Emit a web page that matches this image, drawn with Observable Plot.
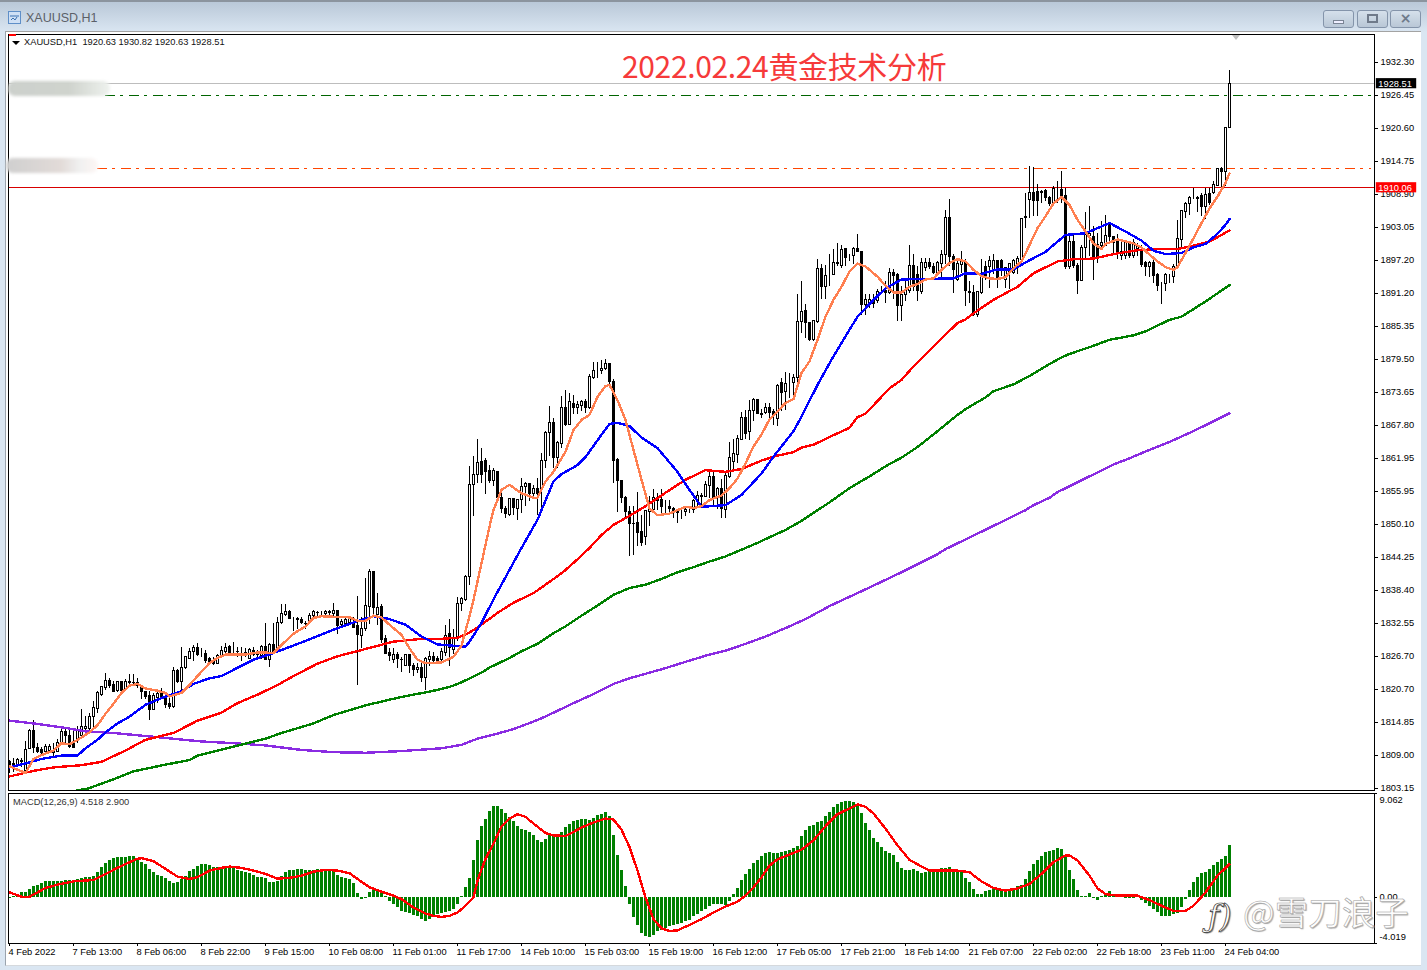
<!DOCTYPE html>
<html lang="zh"><head><meta charset="utf-8"><title>XAUUSD,H1</title>
<script src="https://cdn.jsdelivr.net/npm/d3@7"></script>
<script src="https://cdn.jsdelivr.net/npm/@observablehq/plot@0.6"></script>
<style>
html,body{margin:0;padding:0;background:#dae6f2}
#win{position:relative;width:1427px;height:970px;overflow:hidden;background:linear-gradient(#b7c6d6 0,#dae6f2 32px);font-family:"Liberation Sans",sans-serif}
#win>*{position:absolute}
#top{left:0;top:0;width:1427px;height:2px;background:#8b949e}
#pane{left:5px;top:31px;width:1415px;height:933px;background:#fff;border-top:1px solid #a3a3a3;border-left:1px solid #9aa3ad;border-bottom:1px solid #d5d9dd}
.cap{left:26px;top:11px;font-size:12.5px;color:#5b6068}
.btn{top:10px;height:16px;border:1px solid #8494aa;border-radius:3px;background:linear-gradient(#d5e0eb,#b9c7d6)}
.sm{font-size:9.3px;color:#111;line-height:11px;white-space:pre}
#main,#sub{left:0;width:1427px}
#main{top:0;height:794px}
#sub{top:790px;height:180px}
#main svg,#sub svg{position:absolute;left:0;top:0;max-width:none}
#title{left:622px;top:44px;font:30px "Noto Sans CJK SC",sans-serif;letter-spacing:-.35px;color:#f63a3a;line-height:42px;white-space:nowrap}
.blur{filter:blur(1.5px);border-radius:7px}
#wm{left:1243px;top:889px;font:33.5px "Noto Sans CJK SC",sans-serif;color:#fdfdfd;-webkit-text-stroke:.5px #9a9a9a;text-shadow:1px 1px 1px #aaa;white-space:nowrap;line-height:44px}
#logo{left:1208px;top:894px;font:italic 31px "DejaVu Serif",serif;color:#fff;-webkit-text-stroke:.7px #333;text-shadow:1px 1px 1px #777;line-height:44px;white-space:nowrap}
</style></head><body>
<div id="win">
<div id="top"></div>
<svg style="left:8px;top:11px" width="13" height="13"><rect x=".5" y=".5" width="12" height="12" fill="#cfe0f5" stroke="#5f8fc8"/><path d="M2 5h9M3 9l2-2 2 2 2-3" stroke="#3a70b0" fill="none"/></svg>
<div class="cap">XAUUSD,H1</div>
<div class="btn" style="left:1323px;width:29px"><div style="margin:9px auto 0;width:9px;height:2px;border:1px solid #7a8494;background:#eef"></div></div>
<div class="btn" style="left:1357px;width:29px"><div style="margin:3px auto 0;width:7px;height:5px;border:2px solid #6f7a8a"></div></div>
<div class="btn" style="left:1390px;width:29px;text-align:center;font:bold 14px/15px 'DejaVu Sans';color:#6f7a8a">×</div>
<div id="pane"></div>
<div id="main"></div>
<div id="sub"></div>
<div class="blur" style="left:8px;top:81px;width:102px;height:15px;background:linear-gradient(90deg,#ccd0cc,#cfd3cd 60%,#eef2ee)"></div>
<div class="blur" style="left:6px;top:158px;width:92px;height:15px;background:linear-gradient(90deg,#cfcfcf,#e2dbd8 60%,#f0f0f0 80%,#fdf6f4)"></div>
<div style="left:9px;top:34px;width:7px;height:2px;background:#f00"></div>
<div style="left:12px;top:41px;width:0;height:0;border:4px solid transparent;border-top:4px solid #000;border-bottom:0"></div>
<div style="left:1232px;top:35px;width:0;height:0;border:4px solid transparent;border-top:5px solid #c0c0c0;border-bottom:0"></div>
<div class="sm" style="left:24px;top:37px">XAUUSD,H1  1920.63 1930.82 1920.63 1928.51</div>
<div class="sm" style="left:13px;top:797px;color:#333">MACD(12,26,9) 4.518 2.900</div>
<div id="title">2022.02.24黄金技术分析</div>
<div id="logo">ƒ)</div>
<div id="wm">@雪刀浪子</div>
</div>
<script>
// Candles: [open, high, low, close]; one row per H1 bar
const bars04to08Feb=[
[1808.2,1808.5,1806.3,1807.5],[1807.9,1808.8,1806.4,1807.5],[1807.6,1808.8,1807.2,1808.6],[1808.5,1808.8,1807.3,1808.3],[1806.6,1811.9,1806.3,1810.4],
[1810.5,1814,1810.4,1813.7],[1813.7,1815.7,1809.8,1810.7],[1810.8,1811.6,1809.8,1810.1],[1810.4,1810.9,1809.5,1809.8],[1810.1,1811.4,1809.8,1810.9],
[1810.3,1811.3,1809.8,1810.9],[1810.1,1811.6,1808.9,1809.9],[1810.1,1812.2,1809.9,1811.6],[1811.7,1814.1,1811.3,1813.5],[1813.5,1814.3,1811.3,1812.8],
[1812.8,1814,1810.7,1810.9],[1811.7,1814,1810.6,1810.7],[1811.9,1814.6,1811.6,1814],[1812.8,1817.5,1812.5,1814.4],[1814.2,1816.3,1813.4,1814.5],
[1814.2,1816.9,1813.4,1816.3],[1816.3,1819,1814,1817.8],[1817.6,1820.8,1816.9,1820.5],[1820.2,1821.6,1819.9,1821.5],[1821.3,1823.9,1821,1822.7],
[1822.7,1823.1,1821.3,1821.8],[1822,1822.5,1820.5,1820.6],[1820.8,1822.5,1820.6,1822.4],[1822.4,1822.5,1820.8,1820.9],[1821.1,1822.8,1820.8,1822.5],
[1822.2,1823.7,1821.6,1822.4],[1822.3,1823.7,1821.6,1822.2],[1822.2,1823.1,1821.3,1821.8],[1821.6,1821.9,1819.3,1820.6],[1820.6,1820.8,1819.3,1819.8],
[1820,1820.8,1815.7,1817.5],[1817.5,1820.4,1817.4,1820],[1819.6,1820.8,1818.7,1820.3],[1820.5,1821.3,1819.3,1819.7],[1819.6,1820.2,1817.8,1818.4],
[1818.6,1819.9,1817.6,1818.1]];
const bars08to10Feb=[
[1818.1,1825.1,1817.7,1824.4],[1824.4,1824.6,1822.2,1822.5],[1822.4,1828.6,1820.5,1824.9],[1824.9,1827,1824.6,1826.8],[1826.5,1828.4,1826.4,1827.7],
[1827.7,1829,1826.1,1828.4],[1828.4,1829.2,1827,1827.3],[1827.3,1828.3,1826.7,1827.3],[1827.4,1828.1,1825.8,1826.1],[1826.5,1826.7,1825.5,1825.8],
[1826.1,1826.7,1825.3,1825.7],[1825.6,1827.3,1825.5,1827.1],[1827,1828.7,1826.7,1828],[1827.8,1829.3,1827.3,1828.4],[1828.6,1828.9,1827.3,1827.4],
[1827.8,1829.5,1827,1827.8],[1827.8,1828.6,1826.7,1827.7],[1827.7,1828.6,1826.1,1827.7],[1827.6,1828.4,1826.7,1827.5],[1826.6,1828.4,1826.4,1828.1],
[1828,1828.6,1827,1827.3],[1827.3,1828.1,1826.4,1827.2],[1827,1829,1826.4,1828.6],[1828.6,1832.9,1826.3,1826.4],[1826.4,1829.3,1825.1,1829],
[1829,1832.9,1827.3,1827.8],[1828.1,1833.8,1827.6,1832.9],[1832.9,1836.1,1832.6,1834.5],[1834.4,1836.1,1834.1,1834.9],[1834.9,1835.1,1833.5,1833.6],
[1833.7,1833.9,1831.4,1833.7],[1833.6,1833.8,1831.7,1833.5],[1833.5,1833.8,1832.6,1832.9],[1832.8,1833.2,1831.7,1832.7],[1833.2,1834.6,1832.9,1834.1],
[1834.1,1835.2,1833.6,1834.8],[1834.6,1834.9,1833.9,1834.7],[1834.5,1834.9,1833.8,1834.5],[1834.5,1835.2,1833.8,1834.9],[1834.8,1835.2,1834.1,1834.7],
[1834.5,1836.4,1834.1,1835.1],[1835.1,1835.2,1830.8,1832.3],[1832.5,1833.5,1832,1833],[1832.8,1833.8,1832.3,1833.5],[1832.9,1834.1,1832.6,1833.6],
[1832.9,1833.9,1832,1832.1],[1832.3,1837.6,1821.9,1830.7],[1830.6,1833.8,1828.4,1831.9],[1831.8,1840.8,1831.4,1835.9],[1835.8,1842.3,1832.6,1842]];
const bars10to11Feb=[
[1842,1842.1,1834.1,1835.5],[1834.4,1838.2,1832.4,1835.5],[1835.7,1836.1,1829.3,1829.9],[1830,1830.6,1827.3,1827.4],[1827.6,1828.4,1826.1,1827],
[1826.4,1828.3,1825.8,1827.3],[1827.3,1827.6,1824.9,1826.5],[1826.4,1826.7,1824.1,1826.3],[1825.3,1827.4,1825.2,1827.3],[1827.3,1827.4,1824,1825.3],
[1825.3,1825.8,1823.4,1824.5],[1824.5,1825.8,1824,1824.9],[1824.9,1825.8,1822.3,1823.1],[1823.1,1826.7,1821,1826.5],[1826.4,1827.8,1825.2,1826.8],
[1826.8,1827.6,1825.8,1826.2],[1826.5,1827,1825.8,1826.1],[1826.3,1828.4,1825.9,1827.7],[1827.6,1832.4,1827,1830.6],[1831,1833.6,1825.2,1828.4],
[1828.1,1831.7,1827.3,1830.1],[1830.1,1837.5,1829.6,1836.3],[1836.3,1837.5,1834.9,1837.1],[1837,1841.3,1836.7,1841],[1841,1860.6,1839.5,1857.4],
[1857.4,1862.5,1851.8,1859.1],[1859.1,1865.5,1857.7,1861.2],[1861.4,1863.9,1857.7,1859.1],[1861.6,1862.1,1855.6,1859.7],[1859.8,1860.9,1857.7,1858.1]];
const bars14to15Feb=[
[1858.1,1860.3,1857.1,1859.8],[1859.6,1859.7,1854.7,1855],[1855,1855.9,1852.3,1853.2],[1853.2,1853.5,1851.5,1852.2],[1852,1855,1851.8,1854.9],
[1854.9,1855,1851.9,1853.3],[1853.1,1854.8,1851,1854.7],[1854.7,1858.5,1852.3,1857],[1857,1857.8,1853.6,1857.5],[1857.5,1857.7,1854.4,1855.8],
[1855.8,1857.2,1855.3,1856.6],[1856.6,1858.5,1852,1855.8],[1856.5,1863,1852.9,1861.7],[1861.7,1866.8,1860.3,1866.5],[1866.5,1871.3,1862.4,1868.3],
[1868.3,1869.2,1860.3,1862.1],[1862.1,1865,1860.3,1864.8],[1864.6,1873,1863.9,1871.1],[1871.1,1874.2,1867.7,1868],[1868,1873.6,1867.9,1872.1],
[1871.8,1873.3,1869.8,1871.1],[1871.1,1872.1,1869.8,1871.5],[1871.3,1872.4,1870.4,1872],[1872.1,1872.6,1870.1,1871.1],[1871.1,1877,1870.8,1876.5],
[1876.4,1879,1876.1,1877.5],[1877.5,1879,1876.3,1877.5],[1877.5,1879.4,1876.9,1878],[1877.9,1879.6,1877.6,1878.8],[1878.8,1878.9,1875.1,1875.7],
[1875.7,1876,1857.7,1861.7],[1861.8,1862.1,1852.5,1858],[1858,1858.1,1854.1,1855.1],[1855.1,1855.3,1851.2,1852.5],[1852.6,1853.5,1844.7,1850.4],
[1850.5,1853.6,1844.8,1850.4],[1850.6,1856,1846.4,1848.9],[1849,1852,1846.4,1847.1],[1848.1,1852.9,1846.6,1852.7],[1852.6,1855.3,1850,1853.2]];
const bars15to17Feb=[
[1853,1856.6,1852.6,1855.1],[1855,1855.8,1852.9,1854.6],[1854.7,1856.6,1852,1853.4],[1853.6,1854.7,1852.3,1853.6],[1853.5,1854.7,1852.3,1853.1],
[1853.2,1853.4,1851.5,1852.5],[1852.5,1853,1850.6,1852.4],[1852.6,1853.2,1851.2,1852.6],[1852.5,1853.4,1851.8,1852.9],[1853,1853.2,1852.3,1853],
[1852.9,1854.8,1852.3,1854.6],[1854.4,1856.2,1853.5,1855.4],[1855.3,1855.8,1853.6,1855.5],[1855.3,1858,1855.2,1857.4],[1857.2,1859.9,1855,1858.8],
[1858.8,1859.7,1853.8,1855],[1855,1856.9,1853.1,1856.6],[1856.6,1858.3,1851.5,1853.2],[1853,1859.4,1851.5,1859],[1858.8,1864.9,1858.5,1862.1],
[1861.5,1865.5,1859.5,1862.8],[1862.7,1866.2,1861.2,1865.5],[1865.3,1870.2,1865.2,1869.2],[1869.2,1870.5,1865.5,1866.4],[1866.7,1872.4,1865.3,1870.5],
[1870.5,1872.7,1868.6,1872.4],[1872.4,1872.6,1869.8,1869.9],[1869.9,1870.7,1869.2,1869.8],[1870.1,1871.8,1869.8,1871.1],[1871.1,1871.8,1868.6,1870.2],
[1870.3,1870.8,1868,1869.6],[1869,1875.1,1867.7,1875],[1875.4,1876.3,1870.4,1873.7],[1873.8,1877.3,1870.5,1875.2],[1875.4,1877.2,1872.7,1875.4],
[1875.4,1877,1873.3,1876.3],[1876.3,1891.1,1875.4,1886.3],[1886.2,1893.4,1884.3,1888.1],[1888.2,1889.4,1883.4,1886],[1886,1886.2,1882.8,1883.1]];
const bars17to21Feb=[
[1883.1,1886.6,1882.8,1886.5],[1886.3,1897.4,1886,1895.7],[1895.7,1896.4,1890.2,1892.5],[1892.4,1896.2,1890.2,1894.4],[1894.6,1898.2,1892.5,1894.6],
[1894.6,1899.2,1894.6,1896.8],[1896.8,1900.2,1896.1,1896.6],[1896.2,1899.9,1895.8,1899],[1899.2,1899.3,1896.1,1897.6],[1897.7,1898.2,1897,1897.7],
[1898,1899.5,1896.4,1899.2],[1899.2,1901.7,1898.5,1898.6],[1898.7,1898.7,1887.5,1889.3],[1889.3,1891.2,1887.5,1890.2],[1889.4,1891.1,1888.7,1890.2],
[1890,1891.1,1888.7,1889.5],[1889.9,1892,1889.6,1891.5],[1891.6,1892.5,1891.1,1891.6],[1891.8,1893.4,1889.6,1891.4],[1891.4,1895.8,1891.1,1894.9],
[1894.9,1895.5,1890.2,1894.4],[1894.6,1894.9,1886.3,1889.1],[1889.1,1892.5,1886.3,1891.1],[1891.1,1893.8,1889.9,1891.7],[1891.7,1899.8,1891.4,1896.2],
[1896.2,1898.3,1891.7,1892.5],[1894.6,1896.1,1889.9,1891.7],[1891.5,1897.6,1891.1,1896.7],[1895.8,1897.6,1895.2,1896.8],[1896.7,1897.6,1895.5,1896],
[1896.1,1896.7,1894.6,1895],[1895,1897,1894.3,1896.8],[1896.6,1899,1893.7,1898.2],[1898.2,1906.1,1896.4,1904.7],[1904.7,1908,1896.1,1897.7],
[1897.7,1898.2,1891.4,1895.5],[1893.7,1897.6,1893.4,1896.6],[1896.4,1898.7,1894.9,1897],[1896.7,1897.3,1889,1891.7],[1891.5,1893.4,1889.6,1891.4]];
const bars21to24Feb=[
[1891.4,1892.7,1887.3,1887.5],[1887.5,1891.7,1887.1,1891.5],[1891.4,1897.4,1891.1,1894.2],[1896,1897,1893.7,1894.2],[1896.1,1897.9,1892.2,1897.1],
[1895.5,1898.2,1894.6,1897.1],[1897,1897.1,1892.2,1893.7],[1897.1,1897.3,1894.3,1895.8],[1893.7,1896,1892.2,1895.8],[1895.2,1896.7,1892,1896.6],
[1894.9,1897.3,1894.6,1897.1],[1896.2,1897.9,1894.6,1897.5],[1897.3,1904.7,1897,1904.6],[1904.7,1909.1,1902.9,1904.8],[1907.9,1913.8,1904.7,1909.1],
[1909.1,1913.7,1905,1907.7],[1909.3,1910.7,1905,1907.7],[1909.3,1909.6,1907.3,1909.2],[1909.4,1909.7,1907.6,1908.2],[1908.2,1908.5,1906.7,1907.2],
[1907.3,1910.2,1906.7,1909.9],[1909.8,1911.2,1907.3,1909.8],[1909.7,1912.9,1907.3,1908.5],[1908.6,1910,1895.5,1896.1],[1896.1,1901.7,1895.5,1900.4],
[1900.5,1901.9,1895.8,1896.2],[1896.2,1896.7,1891.1,1893.6],[1893.6,1899.8,1893.4,1899.3],[1899.3,1905.7,1897.6,1901.7],[1901.5,1906.7,1897.9,1901.8],
[1901.3,1903.2,1893.6,1897.7],[1899.9,1902,1896.7,1897.6],[1899.8,1904.1,1899,1900.2],[1899.8,1905.2,1899.6,1901.5],[1903.8,1903.9,1900.3,1901.3],
[1901.4,1901.5,1898.2,1900.2],[1900.5,1901.7,1897.3,1898.3],[1897.9,1900.5,1897.2,1898.7],[1897.9,1900.5,1897.4,1900.2],[1900.2,1900.5,1897.6,1897.9],
[1897.9,1900.8,1897.6,1900.2],[1899.2,1900.2,1897.9,1899.5],[1899,1899.9,1896,1896.4],[1896.7,1897,1894.3,1896],[1896,1897,1894.2,1896.7],
[1896.8,1897.3,1893,1894.4],[1894.6,1894.9,1891.7,1892.7],[1893,1893.3,1889.3,1893],[1893,1894.8,1891.7,1894.6],[1894.6,1894.7,1893.1,1894.6],
[1894.3,1896.4,1893.1,1896.1],[1896,1904.2,1895.8,1900.9],[1900.8,1906.1,1899.3,1906],[1905.8,1907.4,1904.7,1907.2],[1907.2,1908.6,1905.2,1908.2],
[1908.2,1910,1907.9,1908.2],[1908,1908.6,1905.7,1908.3],[1908.6,1909.1,1905,1906.7],[1906.6,1910,1904.5,1908.8],[1908.9,1910,1907,1907.3],
[1909.1,1911.2,1908.8,1910.6],[1910.3,1913.5,1910.2,1913.3],[1913.3,1913.7,1909.8,1912.9],[1912.9,1920.7,1910.3,1920.6],[1920.63,1930.82,1920.63,1928.51]];

// Moving averages: [bar, price]
const maFast=[[0,1807.5],[4,1806.3],[6,1808.8],[8,1809.5],[11,1810.3],[13,1811.6],[15,1811.4],[17,1812.2],[20,1813.5],[22,1814.8],[24,1816.8],[26,1818.6],[28,1820.5],[30,1821.8],[32,1822.1],[34,1821.3],[37,1820.9],[39,1820.5],[40,1819.9],[43,1820.5],[45,1821.9],[47,1823.5],[50,1825.8],[52,1826.7],[54,1827.3],[59,1827.3],[62,1827.7],[66,1827.6],[68,1829],[71,1831],[74,1832.3],[76,1833.8],[78,1834.1],[85,1833.9],[87,1833.3],[89,1833.3],[91,1834.2],[93,1833.9],[95,1832.6],[98,1830.8],[100,1828.4],[102,1826.4],[104,1825.8],[108,1825.9],[111,1826.9],[113,1828.9],[115,1834.1],[116,1837],[118,1843.5],[120,1850],[121,1852.9],[123,1856.5],[125,1857.4],[128,1855.9],[131,1855.1],[132,1855.1],[134,1858],[136,1859.7],[139,1863.3],[141,1867.1],[143,1868.9],[145,1869.8],[147,1873],[149,1874.9],[150,1875.1],[152,1872.4],[154,1868.9],[156,1863.6],[158,1858.3],[160,1853.2],[162,1852],[165,1852.3],[167,1852.9],[169,1853.5],[171,1853.3],[173,1853.6],[175,1854.7],[178,1855.5],[180,1856.8],[182,1858.5],[184,1861.2],[186,1864.2],[188,1866.3],[190,1869],[192,1870.4],[194,1871.9],[196,1872.6],[198,1877.2],[200,1879.3],[202,1883.1],[204,1887.2],[206,1890.2],[208,1892.5],[210,1895.2],[212,1896.6],[214,1896.1],[217,1894.3],[219,1892.7],[221,1891.5],[223,1891.5],[225,1892.5],[227,1893],[229,1893.8],[231,1894],[233,1895.5],[235,1896.7],[237,1897.4],[239,1897],[241,1895.5],[243,1894.4],[245,1894],[247,1893.9],[249,1894.2],[251,1895.8],[253,1897],[255,1899.9],[257,1902.9],[259,1905],[261,1907.3],[263,1908.4],[265,1907],[267,1904.4],[269,1902.3],[271,1900.2],[273,1899.2],[274,1900.1],[277,1900.9],[281,1900.2],[283,1899.5],[285,1898.2],[287,1897],[289,1896],[291,1895.5],[292,1896],[294,1898.5],[296,1901.1],[298,1903.8],[300,1906.4],[302,1908.5],[304,1910.9],[305,1912.6]];
const maBlue=[[0,1807.3],[4,1808],[8,1808.8],[13,1809.4],[17,1809.4],[19,1810.7],[22,1812.2],[24,1813.5],[27,1815.1],[30,1816.3],[34,1818.4],[38,1819.6],[43,1820.8],[46,1822.1],[50,1823.1],[53,1823.5],[56,1824.6],[61,1826.4],[66,1827.6],[71,1828.9],[76,1830.3],[81,1831.7],[86,1833],[91,1834.1],[95,1833.6],[99,1832.6],[103,1830.5],[107,1829.1],[114,1828.7],[115,1829.6],[118,1832.9],[121,1837.1],[125,1842.3],[128,1846.2],[132,1851.2],[136,1858],[138,1859.3],[142,1860.9],[144,1862.3],[147,1865.3],[150,1868.2],[152,1868.4],[155,1867.8],[158,1865.8],[162,1863.9],[167,1859.7],[170,1856.5],[173,1853.5],[179,1853.8],[183,1855.6],[188,1859.4],[191,1862.4],[196,1866.9],[198,1869.5],[202,1875.1],[206,1880.2],[210,1884.9],[212,1887.2],[216,1890.2],[219,1892.2],[223,1893.8],[236,1894],[239,1894.9],[243,1894.8],[247,1895.6],[251,1895.6],[255,1897.2],[259,1898.7],[264,1901.7],[269,1902],[273,1903.2],[275,1903.8],[279,1902.3],[283,1900.7],[286,1898.9],[289,1898.3],[293,1898.5],[296,1899.5],[299,1900.1],[302,1901.9],[304,1903.5],[305,1904.5]];
const maRed=[[0,1805.7],[6,1806.7],[11,1807.3],[18,1807.7],[23,1808.3],[29,1810.3],[34,1812.2],[41,1813.4],[47,1815.6],[53,1817],[57,1818.7],[62,1820.2],[67,1821.9],[71,1823.5],[77,1825.7],[82,1827],[89,1828.3],[96,1829.6],[103,1830.1],[108,1830.1],[112,1830.3],[115,1831.2],[118,1832.6],[122,1834.7],[126,1836.5],[131,1838.2],[134,1839.7],[137,1841.2],[139,1842.3],[142,1844.2],[145,1846.2],[148,1848.5],[151,1850.3],[154,1851.5],[159,1853.6],[164,1856],[169,1858.3],[174,1860],[179,1859.7],[183,1860.2],[188,1861.7],[191,1862.4],[196,1863.2],[198,1864],[201,1864.5],[206,1866.2],[210,1867.5],[212,1869.4],[214,1870],[220,1874.5],[223,1876],[226,1878.4],[230,1881.2],[234,1884],[237,1886.1],[239,1886.7],[241,1887.8],[246,1890.2],[252,1892.5],[256,1894.9],[262,1897],[266,1897.4],[271,1897.5],[276,1898.3],[282,1899],[288,1899.2],[292,1899.2],[296,1899.8],[300,1900.5],[305,1902.5]];
const maGreen=[[17,1803.3],[19,1803.4],[26,1805.2],[31,1806.6],[39,1807.8],[45,1808.6],[47,1809.4],[56,1811],[64,1812.4],[68,1813.4],[76,1815.1],[81,1816.6],[89,1818.3],[98,1819.8],[104,1820.6],[108,1821.2],[111,1821.8],[113,1822.4],[118,1824.1],[120,1825],[125,1826.7],[128,1827.9],[132,1829.2],[136,1831.1],[139,1832.3],[143,1834.2],[147,1836],[151,1837.9],[155,1839.1],[159,1839.7],[163,1840.7],[167,1841.9],[171,1842.8],[175,1843.8],[179,1844.7],[183,1845.9],[187,1847.1],[190,1848.1],[194,1849.4],[198,1851],[205,1854.3],[210,1856.8],[215,1858.9],[220,1861.1],[223,1862.2],[227,1864.1],[232,1866.9],[237,1869.8],[239,1870.8],[244,1872.9],[246,1874],[251,1875.2],[255,1876.7],[259,1878.4],[263,1880],[265,1880.6],[270,1881.8],[275,1883.1],[281,1883.9],[284,1884.6],[290,1886.65],[293,1887.2],[299,1889.9],[305,1892.8]];
const maPurple=[[0,1815.6],[6,1815.1],[14,1814.3],[19,1813.7],[26,1813.4],[35,1812.8],[48,1811.9],[56,1811.6],[64,1811.2],[73,1810.4],[81,1810],[89,1809.9],[98,1810.2],[108,1810.7],[113,1811.3],[117,1812.4],[121,1813.1],[126,1814.1],[132,1815.7],[136,1817],[141,1818.7],[146,1820.3],[151,1822.1],[155,1823.1],[159,1823.9],[164,1824.9],[168,1825.8],[174,1827.1],[179,1828],[184,1829.2],[189,1830.5],[194,1832],[199,1833.6],[205,1835.9],[215,1839.2],[223,1841.9],[232,1845.1],[234,1846],[241,1848.4],[254,1852.9],[256,1853.8],[260,1855.1],[262,1856.1],[270,1858.9],[276,1861],[280,1862.1],[284,1863.3],[290,1865],[295,1866.6],[300,1868.3],[305,1870.1]];

// MACD histogram, one value per bar
const macdHist=[-.06,.06,.15,.41,.41,.67,.94,1.08,1.17,1.38,1.38,1.38,1.38,1.38,1.46,1.46,1.46,1.52,1.61,1.7,1.76,1.81,2.17,2.58,2.93,3.22,3.37,3.48,3.48,3.48,3.57,3.57,3.31,3.07,2.87,2.43,2.14,1.9,1.81,1.61,1.4,1.23,1.32,1.52,1.81,2.28,2.43,2.69,2.87,2.87,2.78,2.63,2.58,2.63,2.63,2.63,2.49,2.34,2.25,2.2,2.05,1.9,1.76,1.7,1.61,1.32,1.32,1.4,1.81,2.2,2.34,2.34,2.43,2.43,2.34,2.34,2.34,2.4,2.46,2.4,2.34,2.25,1.9,1.7,1.61,1.52,1.23,.35,-.15,-.06,.44,.59,.53,.44,.06,-.35,-.64,-.88,-1.23,-1.32,-1.4,-1.61,-1.7,-1.96,-2.11,-1.9,-1.7,-1.52,-1.4,-1.32,-1.23,-1.02,-.59,.06,.88,1.61,3.22,4.92,6.15,6.79,7.52,7.96,7.9,7.7,7.32,6.97,6.59,6.21,5.91,5.8,5.62,5.41,4.98,4.77,5.06,5.5,5.5,5.5,5.62,6.06,6.35,6.59,6.73,6.82,6.82,6.73,6.88,7.11,7.23,7.38,7.08,5.41,3.66,2.34,.94,-.64,-1.76,-2.49,-3.13,-3.45,-3.51,-3.28,-2.99,-2.87,-2.69,-2.55,-2.49,-2.4,-2.28,-2.11,-1.99,-1.7,-1.46,-1.23,-1.08,-.82,-.64,-.59,-.59,-.73,-.38,.23,.79,1.46,1.99,2.46,2.93,3.22,3.57,3.86,3.92,3.86,3.81,3.95,4.01,4.1,4.24,4.45,5.27,5.85,6.15,6.23,6.5,6.64,7.08,7.43,7.84,8.14,8.28,8.4,8.4,8.28,8.14,7.32,6.44,5.8,5.12,4.83,4.39,4.04,3.86,3.66,3.07,2.49,2.34,2.34,2.4,2.28,2.11,2.2,2.34,2.4,2.34,2.49,2.49,2.58,2.2,2.2,2.2,1.61,1.26,.73,.29,.23,.5,.64,.88,.73,.64,.59,.59,.73,.94,1.02,1.52,2.28,2.87,3.22,3.57,3.92,4.01,4.1,4.24,4.16,3.66,2.34,1.52,.64,.12,.12,.35,-.09,-.23,.12,.35,.5,.29,.18,.12,-.06,-.06,-.06,.06,-.23,-.53,-.79,-1.02,-1.32,-1.67,-1.67,-1.67,-1.52,-1.4,-.88,-.15,.59,1.32,1.76,2.05,2.14,2.43,2.78,3.07,3.31,3.57,4.518];
// MACD signal: [bar, value]
const macdSignal=[[0,.44],[3,.06],[5,.06],[9,.82],[12,1.11],[16,1.4],[21,1.52],[24,2.05],[27,2.58],[30,3.07],[32,3.37],[33,3.42],[36,3.16],[39,2.49],[42,1.81],[45,1.61],[47,1.76],[50,2.34],[53,2.58],[55,2.69],[58,2.58],[61,2.34],[64,2.05],[67,1.64],[70,1.7],[73,1.9],[76,2.25],[79,2.4],[82,2.34],[85,2.11],[87,1.61],[90,.88],[93,.5],[96,.15],[98,-.15],[101,-.88],[104,-1.4],[106,-1.61],[108,-1.7],[110,-1.61],[112,-1.32],[114,-.73],[116,0],[117,1.46],[119,3.37],[121,4.68],[123,6.21],[125,6.88],[127,7.26],[129,7.02],[131,6.44],[134,5.62],[136,5.41],[139,5.36],[141,5.71],[143,6.09],[146,6.53],[149,6.88],[151,6.79],[153,5.91],[155,4.39],[157,2.34],[159,0],[161,-1.9],[163,-2.69],[165,-2.93],[167,-2.87],[170,-2.4],[173,-1.9],[176,-1.32],[179,-.79],[182,-.38],[184,.15],[186,.88],[188,1.76],[190,2.78],[192,3.31],[195,3.75],[198,4.16],[201,4.98],[204,6.21],[207,7.26],[210,7.76],[212,8.11],[214,7.9],[216,7.32],[219,6],[222,4.54],[225,3.28],[228,2.69],[230,2.34],[235,2.34],[237,2.34],[240,2.2],[243,1.4],[246,.82],[249,.59],[252,.79],[255,1.17],[258,2.05],[261,3.07],[264,3.66],[265,3.66],[267,3.22],[270,1.9],[272,.79],[274,.29],[277,.15],[282,.15],[285,-.23],[288,-.73],[291,-1.17],[294,-1.17],[296,-.73],[299,.44],[302,1.9],[305,2.9]];

// Axes and levels
const priceLabels=["1932.30","1926.45","1920.60","1914.75","1908.90","1903.05","1897.20","1891.20","1885.35","1879.50","1873.65","1867.80","1861.95","1855.95","1850.10","1844.25","1838.40","1832.55","1826.70","1820.70","1814.85","1809.00","1803.15"];
const timeLabels=["4 Feb 2022","7 Feb 13:00","8 Feb 06:00","8 Feb 22:00","9 Feb 15:00","10 Feb 08:00","11 Feb 01:00","11 Feb 17:00","14 Feb 10:00","15 Feb 03:00","15 Feb 19:00","16 Feb 12:00","17 Feb 05:00","17 Feb 21:00","18 Feb 14:00","21 Feb 07:00","22 Feb 02:00","22 Feb 18:00","23 Feb 11:00","24 Feb 04:00"];
const barsPerTimeLabel=16;
const bidPrice=1928.51, markedPrice=1910.06, levelGreen=1926.45, levelOrange=1913.5;

const candles=[...bars04to08Feb,...bars08to10Feb,...bars10to11Feb,...bars14to15Feb,...bars15to17Feb,...bars17to21Feb,...bars21to24Feb]
  .map(([o,h,l,c],i)=>({i,o,h,l,c}));
const priceTicks=priceLabels.map((_,k)=>1932.3-5.85*k);
const priceTickText=new Map(priceTicks.map((t,k)=>[t,priceLabels[k]]));
const timeTicks=timeLabels.map((_,k)=>k*barsPerTimeLabel);
const timeTickText=new Map(timeTicks.map((t,k)=>[t,timeLabels[k]]));
const xScale={type:"linear",domain:[-.25,341.25],range:[8,1374]};
const font={fontFamily:"Liberation Sans",fontSize:"9.3px",background:"transparent",overflow:"visible"};
const crisp={shapeRendering:"crispEdges"};
const maLine=(data,stroke)=>Plot.line(data,{x:d=>d[0],y:d=>d[1],stroke,strokeWidth:2.4,...crisp});

const main=Plot.plot({
  width:1427,height:794,marginLeft:8,marginRight:53,marginTop:34,marginBottom:4,
  style:font,
  x:{...xScale,axis:null},
  y:{type:"linear",domain:[1803.21,1937.23],label:null,axis:null},
  marks:[
    Plot.ruleY([bidPrice],{stroke:"#bdbdbd",...crisp}),
    Plot.ruleY([levelGreen],{x1:24,x2:340.5,stroke:"#006400",strokeDasharray:"10,5,3,6",...crisp}),
    Plot.ruleY([levelOrange],{x1:22,x2:340.5,stroke:"#ff4500",strokeDasharray:"10,5,3,6",...crisp}),
    Plot.ruleY([markedPrice],{stroke:"#d80000",...crisp}),
    Plot.ruleX(candles,{x:"i",y1:"l",y2:"h",stroke:"#000",...crisp}),
    Plot.rect(candles,{x1:d=>d.i-.25,x2:d=>d.i+.25,y1:"o",y2:"c",fill:d=>d.c<d.o?"#000":"#fff",stroke:"#000",...crisp}),
    maLine(maPurple,"#8a2be2"),
    maLine(maGreen,"#008000"),
    maLine(maRed,"#ff0000"),
    maLine(maBlue,"#0000ff"),
    maLine(maFast,"#ff7f50"),
    Plot.axisY({anchor:"right",ticks:priceTicks,tickFormat:d=>priceTickText.get(d),tickSize:3,tickPadding:3,label:null,fill:"#000",fontVariant:"normal",...crisp}),
    Plot.frame({stroke:"#000"}),
    Plot.rect([bidPrice],{x1:341.7,x2:351.8,y1:d=>d-.9,y2:d=>d+.9,fill:"#000"}),
    Plot.text([bidPrice],{x:342.2,y:d=>d,text:d=>d.toFixed(2),textAnchor:"start",fill:"#fff",fontSize:9.3}),
    Plot.rect([markedPrice],{x1:341.7,x2:351.8,y1:d=>d-.9,y2:d=>d+.9,fill:"#f00"}),
    Plot.text([markedPrice],{x:342.2,y:d=>d,text:d=>d.toFixed(2),textAnchor:"start",fill:"#fff",fontSize:9.3})
  ]});
document.getElementById("main").append(main);

const sub=Plot.plot({
  width:1427,height:180,marginLeft:8,marginRight:53,marginTop:3,marginBottom:27,
  style:font,
  x:{...xScale,axis:null},
  y:{type:"linear",domain:[-4.019,9.062],label:null,axis:null},
  marks:[
    Plot.ruleX(macdHist,{x:(d,i)=>i,y1:0,y2:d=>d,stroke:"#008000",strokeWidth:3,...crisp}),
    Plot.line(macdSignal,{x:d=>d[0],y:d=>d[1],stroke:"#ff0000",strokeWidth:2.4,...crisp}),
    Plot.axisX({anchor:"bottom",ticks:timeTicks,tickFormat:()=>"",tickSize:3,label:null,...crisp}),
    Plot.axisX({anchor:"bottom",ticks:timeTicks,tickFormat:d=>timeTickText.get(d),tickSize:0,tickPadding:5,dx:-1,textAnchor:"start",label:null,fill:"#000",fontVariant:"normal"}),
    Plot.ruleY([9.062,0,-4.019],{x1:341.25,x2:342,stroke:"#000",...crisp}),
    Plot.text([9.062],{frameAnchor:"right",y:d=>d,dx:5,dy:7,text:()=>"9.062",textAnchor:"start",fill:"#000"}),
    Plot.text([0],{frameAnchor:"right",y:d=>d,dx:5,text:()=>"0.00",textAnchor:"start",fill:"#000"}),
    Plot.text([-4.019],{frameAnchor:"right",y:d=>d,dx:5,dy:-6,text:()=>"-4.019",textAnchor:"start",fill:"#000"}),
    Plot.frame({stroke:"#000"})
  ]});
document.getElementById("sub").append(sub);
</script>
</body></html>
